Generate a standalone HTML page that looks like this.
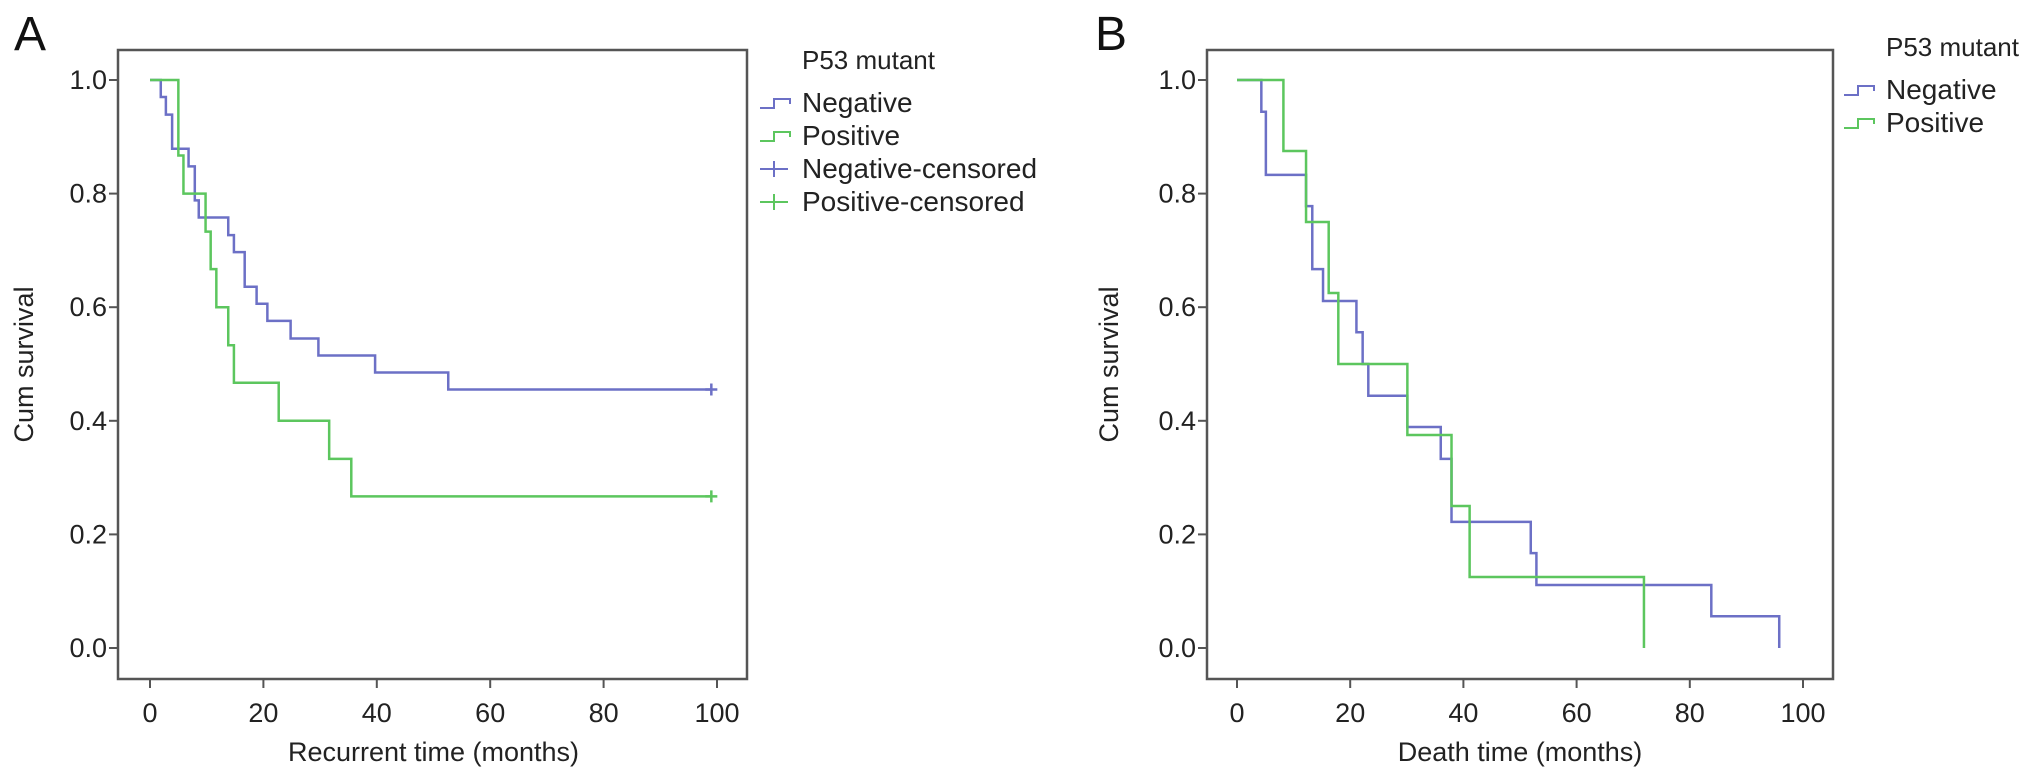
<!DOCTYPE html>
<html><head><meta charset="utf-8">
<style>
html,body{margin:0;padding:0;background:#fff;}
svg{display:block;font-family:"Liberation Sans",Arial,sans-serif;}
</style></head>
<body>
<svg id="chart" width="2032" height="778" viewBox="0 0 2032 778" xmlns="http://www.w3.org/2000/svg"></svg>
<script>
// Panel A data (Recurrent time)
const aNegTimes = [0, 1.9, 2.8, 3.9, 6.8, 7.9, 8.6, 13.8, 14.8, 16.7, 18.8, 20.7, 24.8, 29.7, 39.7, 52.6];
const aNegSurv  = [1.0, 0.970, 0.939, 0.879, 0.848, 0.788, 0.758, 0.727, 0.697, 0.636, 0.606, 0.576, 0.545, 0.515, 0.485, 0.455];
const aNegEnd = 99;
const aPosTimes = [0, 5.0, 5.9, 9.8, 10.7, 11.7, 13.8, 14.8, 22.7, 31.6, 35.5];
const aPosSurv  = [1.0, 0.867, 0.8, 0.733, 0.667, 0.6, 0.533, 0.467, 0.4, 0.333, 0.267];
const aPosEnd = 99;
// Panel B data (Death time)
const bNegTimes = [0, 4.3, 5.1, 12.2, 13.3, 15.2, 21.1, 22.2, 23.2, 30.1, 36.0, 37.9, 51.9, 52.9, 83.8, 95.8];
const bNegSurv  = [1.0, 0.944, 0.833, 0.778, 0.667, 0.611, 0.556, 0.5, 0.444, 0.389, 0.333, 0.222, 0.167, 0.111, 0.056, 0.0];
const bPosTimes = [0, 8.2, 12.2, 16.2, 17.9, 30.1, 37.9, 41.1, 71.9];
const bPosSurv  = [1.0, 0.875, 0.75, 0.625, 0.5, 0.375, 0.25, 0.125, 0.0];
const xTicks = [0, 20, 40, 60, 80, 100];
const yTicks = [0.0, 0.2, 0.4, 0.6, 0.8, 1.0];

const NS = "http://www.w3.org/2000/svg";
const svg = document.getElementById('chart');
const BLUE = "#6c70c6", GREEN = "#5cc65e", AX = "#555";
function el(tag, attrs, parent){ const e=document.createElementNS(NS,tag); for(const k in attrs) e.setAttribute(k,attrs[k]); (parent||svg).appendChild(e); return e; }

function panel(p){
  const g = el('g',{});
  
  
  const xs = t => p.x0 + t*(p.x100-p.x0)/100;
  const ys = s => p.y0 + s*(p.y1-p.y0);
  const box = el('rect',{x:p.left,y:p.top,width:p.right-p.left,height:p.bottom-p.top,fill:'none',stroke:AX,'stroke-width':2.5},g);
  
  
  yTicks.forEach(v=>{
    const y=ys(v);
    el('line',{x1:p.left-9,x2:p.left,y1:y,y2:y,stroke:AX,'stroke-width':2},g);
    const t=el('text',{x:p.left-11,y:y+9,'text-anchor':'end','font-size':27,fill:'#222'},g);
    t.textContent=v.toFixed(1);
    
    
  });
  xTicks.forEach(v=>{
    const x=xs(v);
    el('line',{x1:x,x2:x,y1:p.bottom,y2:p.bottom+9,stroke:AX,'stroke-width':2},g);
    const t=el('text',{x:x,y:p.bottom+43,'text-anchor':'middle','font-size':27,fill:'#222'},g);
    t.textContent=v;
    
    
  });
  const xt=el('text',{x:xs(50),y:p.bottom+82,'text-anchor':'middle','font-size':27,fill:'#222'},g);
  xt.textContent=p.xTitle;
  
  
  const yt=el('text',{x:p.yTitleX,y:(p.top+p.bottom)/2,'text-anchor':'middle','font-size':27,fill:'#222',transform:`rotate(-90 ${p.yTitleX} ${(p.top+p.bottom)/2})`},g);
  yt.textContent='Cum survival';
  
  
  const lt=el('text',{x:p.letterX,y:50,'font-size':48,fill:'#111'},g);
  lt.textContent=p.letter;
  
  

  p.series.forEach(s=>{
    let d=`M${xs(s.times[0])},${ys(s.surv[0])}`;
    for(let i=1;i<s.times.length;i++){
      d+=` H${xs(s.times[i])} V${ys(s.surv[i])}`;
    }
    if(s.end!==undefined) d+=` H${xs(s.end)}`;
    const path=el('path',{d:d,fill:'none',stroke:s.color,'stroke-width':2.5},g);
    
    
    if(s.end!==undefined){
      const cx=xs(s.end), cy=ys(s.surv[s.surv.length-1]);
      const c=el('path',{d:`M${cx-6},${cy} H${cx+6} M${cx},${cy-6} V${cy+6}`,stroke:s.color,'stroke-width':2.5},g);
      
      
    }
  });

  const lg=el('g',{},g);
  
  
  const ttl=el('text',{x:p.legX+42,y:p.legY,'font-size':26,fill:'#222'},lg);
  ttl.textContent='P53 mutant';
  
  
  p.legend.forEach((e,i)=>{
    const y=p.legY+42+i*33;
    const sx=p.legX;
    if(e.type==='step'){
      el('path',{d:`M${sx},${y-3} H${sx+14} V${y-12} H${sx+30} V${y-7}`,fill:'none',stroke:e.color,'stroke-width':2},lg);
    } else {
      el('path',{d:`M${sx},${y-8} H${sx+28} M${sx+14},${y-16} V${y}`,fill:'none',stroke:e.color,'stroke-width':2},lg);
    }
    const t=el('text',{x:sx+42,y:y+1,'font-size':28,fill:'#222'},lg);
    t.textContent=e.label;
    
    
  });
}

panel({name:'panel-a',letter:'A',letterX:14,left:118,right:747,top:50,bottom:679,x0:150,x100:717,y0:648,y1:80,
  xTitle:'Recurrent time (months)',yTitleX:33,legX:760,legY:69,
  series:[{name:'negative-curve',times:aNegTimes,surv:aNegSurv,end:aNegEnd,color:BLUE},
          {name:'positive-curve',times:aPosTimes,surv:aPosSurv,end:aPosEnd,color:GREEN}],
  legend:[{type:'step',color:BLUE,label:'Negative'},{type:'step',color:GREEN,label:'Positive'},
          {type:'plus',color:BLUE,label:'Negative-censored'},{type:'plus',color:GREEN,label:'Positive-censored'}]});

panel({name:'panel-b',letter:'B',letterX:1095,left:1207,right:1833,top:50,bottom:679,x0:1237,x100:1803,y0:648,y1:80,
  xTitle:'Death time (months)',yTitleX:1118,legX:1844,legY:56,
  series:[{name:'negative-curve',times:bNegTimes,surv:bNegSurv,color:BLUE},
          {name:'positive-curve',times:bPosTimes,surv:bPosSurv,color:GREEN}],
  legend:[{type:'step',color:BLUE,label:'Negative'},{type:'step',color:GREEN,label:'Positive'}]});
</script>
</body></html>
